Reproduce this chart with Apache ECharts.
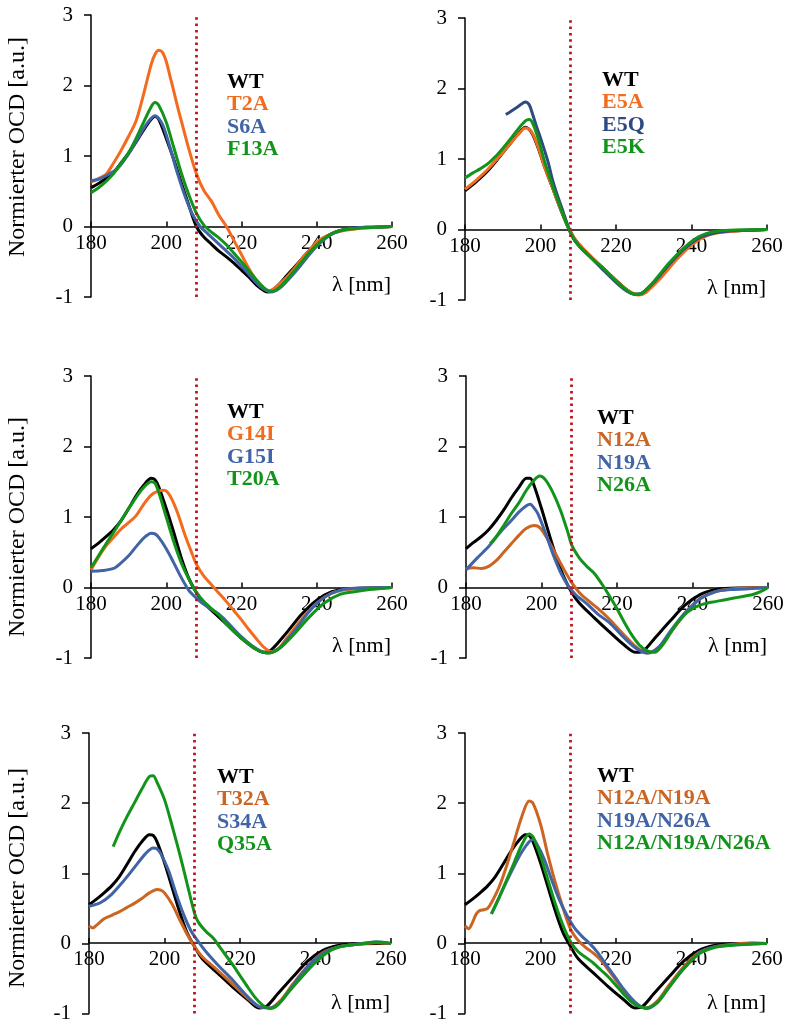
<!DOCTYPE html>
<html>
<head>
<meta charset="utf-8">
<script src="https://cdn.jsdelivr.net/npm/echarts/dist/echarts.min.js"></script>
<style>
  html, body { margin: 0; padding: 0; background: #ffffff; }
  #chart { width: 792px; height: 1024px; }
</style>
</head>
<body>
<div id="chart"></div>
<script>
// CD spectra, normalised, wavelength [nm] vs. signal [a.u.]
const xTicks = [180, 200, 220, 240, 260];
const yTicks = [-1, 0, 1, 2, 3];
const refWavelength = 208;

// Panel 1
const p1Names = ['WT', 'T2A', 'S6A', 'F13A'];
const p1WT = [[180,0.55],[182,0.61],[184,0.68],[186,0.77],[188,0.9],[190,1.04],[192,1.2],[194,1.37],[196,1.52],[197,1.56],[198,1.52],[200,1.25],[202,0.95],[204,0.62],[206,0.3],[208,0.0],[210,-0.15],[212,-0.25],[214,-0.35],[216,-0.43],[218,-0.52],[220,-0.62],[222,-0.72],[224,-0.83],[226,-0.91],[227,-0.93],[228,-0.91],[230,-0.82],[232,-0.7],[234,-0.58],[236,-0.46],[238,-0.34],[240,-0.24],[242,-0.16],[244,-0.1],[246,-0.06],[248,-0.04],[250,-0.02],[254,-0.01],[260,0]];
const p1T2A = [[180,0.63],[182,0.68],[184,0.74],[186,0.9],[188,1.08],[190,1.28],[192,1.5],[194,1.88],[196,2.3],[197,2.44],[198,2.5],[199,2.47],[200,2.34],[201,2.13],[202,1.92],[203,1.7],[204,1.5],[206,1.1],[208,0.75],[210,0.51],[212,0.36],[214,0.16],[216,0.0],[218,-0.2],[220,-0.4],[222,-0.6],[224,-0.77],[226,-0.88],[227,-0.91],[228,-0.9],[230,-0.82],[232,-0.72],[234,-0.6],[236,-0.46],[238,-0.34],[240,-0.22],[242,-0.15],[244,-0.1],[246,-0.07],[248,-0.05],[252,-0.02],[256,-0.01],[260,0]];
const p1S6A = [[180,0.65],[182,0.67],[184,0.72],[187,0.82],[190,1.03],[193,1.3],[195,1.47],[197,1.57],[199,1.45],[201,1.12],[203,0.75],[205,0.43],[207,0.17],[209,0.0],[211,-0.1],[213,-0.2],[215,-0.3],[218,-0.45],[221,-0.62],[224,-0.8],[226,-0.89],[228,-0.93],[230,-0.88],[232,-0.78],[235,-0.6],[238,-0.4],[241,-0.23],[244,-0.11],[247,-0.05],[250,-0.02],[255,-0.01],[260,0]];
const p1F13A = [[180,0.48],[182,0.55],[184,0.64],[186,0.75],[188,0.9],[190,1.05],[192,1.25],[194,1.48],[196,1.7],[197,1.76],[198,1.72],[200,1.48],[202,1.12],[204,0.76],[206,0.45],[208,0.19],[210,0.02],[212,-0.08],[214,-0.16],[216,-0.26],[218,-0.38],[220,-0.5],[222,-0.63],[224,-0.76],[226,-0.87],[228,-0.92],[230,-0.87],[232,-0.76],[234,-0.63],[236,-0.5],[238,-0.37],[240,-0.26],[242,-0.17],[244,-0.1],[246,-0.06],[248,-0.04],[252,-0.02],[256,-0.01],[260,0]];

// Panel 2
const p2Names = ['WT', 'E5A', 'E5Q', 'E5K'];
const p2WT = [[180,0.55],[183,0.68],[186,0.83],[189,1.02],[192,1.22],[194,1.35],[196,1.45],[197,1.42],[198,1.34],[199.5,1.14],[201,0.9],[203,0.62],[205,0.33],[207,0.07],[209,-0.15],[211,-0.27],[214,-0.42],[217,-0.57],[220,-0.72],[223,-0.86],[225,-0.92],[227,-0.9],[230,-0.75],[234,-0.5],[238,-0.27],[242,-0.11],[246,-0.04],[250,-0.02],[255,-0.01],[260,0]];
const p2E5A = [[180,0.57],[183,0.7],[186,0.85],[189,1.03],[192,1.22],[194,1.34],[196,1.44],[197,1.42],[198,1.35],[199.5,1.15],[201,0.9],[203,0.62],[205,0.33],[207,0.08],[209,-0.12],[211,-0.25],[213,-0.36],[216,-0.52],[220,-0.72],[223,-0.86],[226,-0.93],[228,-0.89],[232,-0.68],[236,-0.43],[240,-0.22],[244,-0.09],[248,-0.04],[252,-0.02],[260,0]];
const p2E5Q = [[190.8,1.63],[192,1.67],[194,1.74],[196,1.81],[197,1.77],[198,1.62],[199,1.45],[200,1.3],[202,0.96],[203,0.74],[204,0.56],[206,0.25],[208,-0.05],[210,-0.22],[213,-0.38],[216,-0.54],[220,-0.75],[223,-0.88],[225,-0.92],[227,-0.9],[230,-0.75],[234,-0.5],[238,-0.28],[242,-0.12],[246,-0.05],[250,-0.02],[255,-0.01],[260,0]];
const p2E5K = [[180,0.73],[182,0.8],[184,0.86],[186,0.93],[188,1.03],[190,1.15],[192,1.28],[194,1.42],[196,1.54],[197,1.56],[198,1.5],[199.5,1.27],[201,0.98],[203,0.65],[205,0.35],[207,0.07],[209,-0.15],[211,-0.28],[214,-0.43],[217,-0.57],[220,-0.73],[223,-0.87],[225,-0.92],[227,-0.9],[230,-0.74],[234,-0.48],[238,-0.26],[242,-0.1],[246,-0.03],[250,-0.01],[260,0]];

// Panel 3
const p3Names = ['WT', 'G14I', 'G15I', 'T20A'];
const p3WT = [[180,0.55],[182,0.63],[184,0.72],[186,0.82],[188,0.95],[190,1.12],[192,1.3],[194,1.45],[196,1.55],[197,1.53],[198,1.43],[200,1.12],[202,0.78],[204,0.42],[206,0.13],[208,-0.07],[210,-0.22],[213,-0.37],[216,-0.52],[220,-0.72],[224,-0.88],[226,-0.92],[228,-0.88],[232,-0.64],[236,-0.38],[240,-0.18],[244,-0.06],[248,-0.02],[260,0]];
const p3G14I = [[180,0.25],[182,0.43],[184,0.59],[186,0.71],[188,0.83],[190,0.92],[192,1.02],[194,1.18],[196,1.31],[198,1.37],[199.5,1.38],[201,1.3],[203,1.06],[205,0.74],[207,0.46],[208,0.33],[210,0.16],[212,0.04],[214,-0.08],[216,-0.2],[218,-0.33],[220,-0.46],[222,-0.6],[224,-0.73],[226,-0.85],[228,-0.91],[230,-0.86],[232,-0.72],[236,-0.45],[240,-0.22],[244,-0.08],[248,-0.03],[252,-0.01],[260,0]];
const p3G15I = [[180,0.23],[183,0.24],[186,0.27],[188,0.35],[190,0.45],[192,0.58],[194,0.7],[196,0.77],[197,0.76],[198,0.71],[200,0.55],[202,0.35],[204,0.14],[206,-0.04],[208,-0.15],[210,-0.24],[212,-0.31],[214,-0.38],[216,-0.48],[220,-0.7],[224,-0.87],[227,-0.93],[230,-0.86],[234,-0.62],[238,-0.34],[242,-0.14],[246,-0.04],[250,-0.01],[260,0]];
const p3T20A = [[180,0.28],[182,0.45],[184,0.62],[186,0.78],[188,0.95],[190,1.12],[192,1.28],[194,1.42],[196,1.5],[197,1.48],[198,1.35],[200,1.0],[202,0.65],[204,0.35],[206,0.12],[208,-0.07],[210,-0.2],[212,-0.3],[214,-0.39],[216,-0.52],[220,-0.72],[224,-0.88],[227,-0.93],[230,-0.87],[234,-0.66],[238,-0.42],[242,-0.22],[246,-0.1],[250,-0.06],[254,-0.03],[260,0]];

// Panel 4
const p4Names = ['WT', 'N12A', 'N19A', 'N26A'];
const p4WT = [[180,0.55],[182,0.64],[184,0.72],[186,0.82],[188,0.95],[190,1.1],[192,1.27],[194,1.42],[196,1.55],[197,1.55],[198,1.45],[200,1.12],[202,0.76],[204,0.42],[206,0.14],[208,-0.07],[210,-0.22],[214,-0.43],[218,-0.63],[222,-0.82],[225,-0.92],[227,-0.9],[230,-0.72],[234,-0.48],[238,-0.25],[242,-0.1],[246,-0.03],[250,-0.01],[260,0]];
const p4N12A = [[180,0.27],[182,0.28],[184,0.27],[186,0.3],[188,0.38],[190,0.5],[192,0.62],[194,0.74],[196,0.84],[198,0.88],[199,0.87],[200,0.82],[202,0.65],[204,0.45],[206,0.25],[208,0.07],[210,-0.07],[212,-0.17],[215,-0.3],[218,-0.45],[222,-0.68],[225,-0.84],[228,-0.93],[231,-0.85],[234,-0.65],[238,-0.38],[242,-0.16],[246,-0.06],[250,-0.02],[260,0]];
const p4N19A = [[180,0.25],[183,0.42],[186,0.58],[189,0.78],[192,0.95],[194,1.07],[196,1.16],[197,1.18],[198,1.13],[199,1.05],[201,0.78],[203,0.48],[205,0.22],[207,0.03],[209,-0.1],[212,-0.23],[215,-0.38],[218,-0.5],[222,-0.72],[225,-0.86],[228,-0.93],[231,-0.85],[234,-0.63],[238,-0.36],[242,-0.16],[246,-0.06],[250,-0.03],[254,-0.02],[260,0]];
const p4N26A = [[186.4,0.62],[188,0.72],[190,0.88],[192,1.05],[194,1.2],[196,1.38],[198,1.52],[199.5,1.58],[201,1.53],[203,1.35],[205,1.1],[207,0.78],[208,0.6],[210,0.42],[212,0.3],[214,0.2],[216,0.05],[218,-0.12],[220,-0.3],[222,-0.5],[224,-0.68],[226,-0.82],[228,-0.9],[230,-0.92],[232,-0.82],[234,-0.66],[236,-0.5],[238,-0.38],[240,-0.3],[242,-0.25],[244,-0.22],[246,-0.2],[248,-0.18],[250,-0.16],[252,-0.14],[254,-0.12],[256,-0.1],[258,-0.06],[260,0]];

// Panel 5
const p5Names = ['WT', 'T32A', 'S34A', 'Q35A'];
const p5WT = [[180,0.55],[182,0.63],[184,0.72],[186,0.82],[188,0.95],[190,1.12],[192,1.3],[194,1.45],[196,1.55],[197,1.54],[198,1.45],[200,1.15],[202,0.8],[204,0.45],[206,0.15],[208,-0.05],[210,-0.22],[214,-0.42],[218,-0.62],[222,-0.8],[225,-0.92],[227,-0.9],[230,-0.72],[234,-0.48],[238,-0.25],[242,-0.1],[246,-0.03],[250,-0.01],[260,0]];
const p5T32A = [[180,0.25],[181,0.22],[182,0.26],[184,0.35],[186,0.4],[188,0.45],[190,0.51],[192,0.57],[194,0.64],[196,0.72],[198,0.77],[199,0.76],[200,0.72],[202,0.56],[204,0.34],[206,0.13],[208,-0.05],[210,-0.19],[214,-0.38],[218,-0.58],[222,-0.78],[225,-0.9],[228,-0.92],[231,-0.8],[234,-0.58],[238,-0.32],[242,-0.13],[246,-0.05],[250,-0.02],[256,0.01],[260,0]];
const p5S34A = [[180,0.53],[183,0.58],[186,0.7],[189,0.88],[192,1.08],[195,1.28],[197,1.36],[198,1.35],[199,1.28],[201,1.05],[203,0.72],[205,0.42],[207,0.18],[209,0.02],[211,-0.12],[214,-0.3],[218,-0.52],[222,-0.76],[225,-0.9],[228,-0.92],[231,-0.82],[234,-0.6],[238,-0.33],[242,-0.14],[246,-0.05],[250,-0.02],[256,0.02],[260,0]];
const p5Q35A = [[186.4,1.38],[188,1.58],[190,1.8],[192,2.0],[194,2.2],[196,2.38],[197,2.39],[198,2.3],[200,2.05],[202,1.68],[204,1.28],[206,0.85],[208,0.42],[209,0.3],[211,0.17],[213,0.07],[215,-0.08],[218,-0.3],[220,-0.46],[222,-0.62],[224,-0.77],[226,-0.88],[228,-0.93],[230,-0.88],[232,-0.75],[236,-0.5],[240,-0.27],[244,-0.1],[248,-0.03],[252,-0.01],[256,0.02],[260,0]];

// Panel 6
const p6Names = ['WT', 'N12A/N19A', 'N19A/N26A', 'N12A/N19A/N26A'];
const p6WT = [[180,0.55],[182,0.63],[184,0.72],[186,0.82],[188,0.95],[190,1.12],[192,1.3],[194,1.45],[196,1.55],[197,1.54],[198,1.45],[200,1.15],[202,0.8],[204,0.45],[206,0.15],[208,-0.05],[210,-0.22],[214,-0.42],[218,-0.62],[222,-0.8],[225,-0.92],[227,-0.9],[230,-0.72],[234,-0.48],[238,-0.25],[242,-0.1],[246,-0.03],[250,-0.01],[260,0]];
const p6N12AN19A = [[180,0.25],[181,0.21],[182,0.3],[183,0.42],[184,0.47],[185,0.48],[186,0.5],[187,0.58],[189,0.8],[191,1.1],[193,1.45],[195,1.8],[197,2.03],[198,2.0],[200,1.7],[202,1.25],[204,0.85],[206,0.5],[208,0.2],[210,0.04],[212,-0.06],[214,-0.14],[216,-0.24],[218,-0.38],[220,-0.53],[222,-0.68],[224,-0.8],[226,-0.89],[228,-0.92],[231,-0.82],[234,-0.6],[238,-0.33],[242,-0.13],[246,-0.05],[250,-0.02],[256,0.01],[260,0]];
const p6N19AN26A = [[187,0.42],[189,0.65],[191,0.88],[193,1.1],[195,1.3],[197,1.45],[198,1.48],[199,1.42],[201,1.2],[203,0.9],[205,0.62],[207,0.4],[209,0.22],[211,0.1],[213,0.0],[215,-0.12],[218,-0.35],[220,-0.5],[222,-0.65],[224,-0.78],[226,-0.88],[228,-0.93],[231,-0.84],[234,-0.63],[238,-0.35],[242,-0.14],[246,-0.05],[250,-0.03],[256,-0.01],[260,0]];
const p6Triple = [[187,0.42],[189,0.65],[191,0.9],[193,1.15],[195,1.4],[197,1.56],[198,1.52],[200,1.25],[202,0.9],[204,0.55],[206,0.25],[208,0.02],[210,-0.12],[212,-0.2],[214,-0.28],[216,-0.38],[218,-0.48],[220,-0.6],[222,-0.72],[224,-0.83],[226,-0.9],[228,-0.92],[231,-0.84],[234,-0.63],[238,-0.36],[242,-0.15],[246,-0.06],[250,-0.03],[256,-0.01],[260,0]];

// Colours
const BLACK = '#000000';
const ORANGE = '#F26B1F';
const BROWN = '#CC6422';
const BLUE = '#4164A6';
const NAVY = '#2E4B80';
const GREEN = '#12941B';

const FONT = '"Liberation Serif", "Times New Roman", serif';

const panels = [
  { grid: { left: 91, top: 15, width: 301, height: 282 }, names: p1Names, data: [p1WT, p1T2A, p1S6A, p1F13A], colors: [BLACK, ORANGE, BLUE, GREEN], legend: [227, 82], yName: 147 },
  { grid: { left: 465, top: 18, width: 302, height: 282 }, names: p2Names, data: [p2WT, p2E5A, p2E5Q, p2E5K], colors: [BLACK, ORANGE, NAVY, GREEN], legend: [602, 80] },
  { grid: { left: 91, top: 376, width: 301, height: 282 }, names: p3Names, data: [p3WT, p3G14I, p3G15I, p3T20A], colors: [BLACK, ORANGE, BLUE, GREEN], legend: [227, 412], yName: 527 },
  { grid: { left: 466, top: 376, width: 302, height: 282 }, names: p4Names, data: [p4WT, p4N12A, p4N19A, p4N26A], colors: [BLACK, BROWN, BLUE, GREEN], legend: [597, 418] },
  { grid: { left: 89, top: 733, width: 302, height: 282 }, names: p5Names, data: [p5WT, p5T32A, p5S34A, p5Q35A], colors: [BLACK, BROWN, BLUE, GREEN], legend: [217, 777], yName: 878 },
  { grid: { left: 465, top: 733, width: 302, height: 282 }, names: p6Names, data: [p6WT, p6N12AN19A, p6N19AN26A, p6Triple], colors: [BLACK, BROWN, BLUE, GREEN], legend: [597, 776] }
];

const axisLineStyle = { color: '#000', width: 1.5 };
const yMin = yTicks[0], yMax = yTicks[yTicks.length - 1];
const grids = [], xAxes = [], yAxes = [], series = [], graphics = [];

panels.forEach((p, i) => {
  grids.push(Object.assign({ containLabel: false }, p.grid));
  // the wavelength axis runs along the zero line of the signal axis
  const zeroOffset = -p.grid.height * (0 - yMin) / (yMax - yMin);
  xAxes.push({
    gridIndex: i, type: 'value', position: 'bottom', offset: zeroOffset,
    min: xTicks[0], max: xTicks[xTicks.length - 1], interval: xTicks[1] - xTicks[0],
    axisLine: { onZero: false, lineStyle: axisLineStyle },
    axisTick: { show: true, inside: true, length: 5, lineStyle: axisLineStyle },
    axisLabel: { color: '#000', fontFamily: FONT, fontSize: 21, margin: 6 },
    splitLine: { show: false }
  });
  yAxes.push({
    gridIndex: i, type: 'value',
    min: yMin, max: yMax, interval: yTicks[1] - yTicks[0],
    axisLine: { show: true, onZero: false, lineStyle: axisLineStyle },
    axisTick: { show: true, inside: false, length: 7, lineStyle: axisLineStyle },
    axisLabel: { color: '#000', fontFamily: FONT, fontSize: 21, margin: 18 },
    splitLine: { show: false }
  });
  p.data.forEach((d, k) => {
    const s = {
      name: p.names[k], type: 'line', xAxisIndex: i, yAxisIndex: i,
      data: d, showSymbol: false, symbol: 'none',
      smooth: 0.3,
      lineStyle: { color: p.colors[k], width: 3 },
      itemStyle: { color: p.colors[k] },
      z: 3 + k, animation: false, silent: true
    };
    if (k === 0) {
      s.markLine = {
        silent: true, symbol: ['none', 'none'], label: { show: false },
        lineStyle: { color: '#C0141C', type: [2.5, 3.8], width: 2.8 },
        data: [{ xAxis: refWavelength }], animation: false, z: 10
      };
    }
    series.push(s);
  });

  // legend block: coloured bold labels
  p.names.forEach((n, k) => {
    graphics.push({
      type: 'text', x: p.legend[0], y: p.legend[1] + k * 22.5, silent: true,
      style: { text: n, fill: p.colors[k], font: 'bold 22px ' + FONT,
               textAlign: 'left', textVerticalAlign: 'middle', align: 'left', verticalAlign: 'middle' }
    });
  });

  // x-axis title
  graphics.push({
    type: 'text', x: p.grid.left + p.grid.width - 1, y: p.grid.top + p.grid.height - 12, silent: true,
    style: { text: 'λ [nm]', fill: '#000', font: '22px ' + FONT,
             textAlign: 'right', textVerticalAlign: 'middle', align: 'right', verticalAlign: 'middle' }
  });

  // y-axis title on the left column
  if (p.yName) {
    graphics.push({
      type: 'text', x: 18, y: p.yName, rotation: Math.PI / 2, silent: true,
      style: { text: 'Normierter OCD [a.u.]', fill: '#000', font: '24px ' + FONT,
               textAlign: 'center', textVerticalAlign: 'middle', align: 'center', verticalAlign: 'middle' }
    });
  }
});

const chart = echarts.init(document.getElementById('chart'), null, { renderer: 'canvas' });
chart.setOption({
  animation: false,
  backgroundColor: '#ffffff',
  grid: grids,
  xAxis: xAxes,
  yAxis: yAxes,
  series: series,
  graphic: graphics
});
</script>
</body>
</html>
